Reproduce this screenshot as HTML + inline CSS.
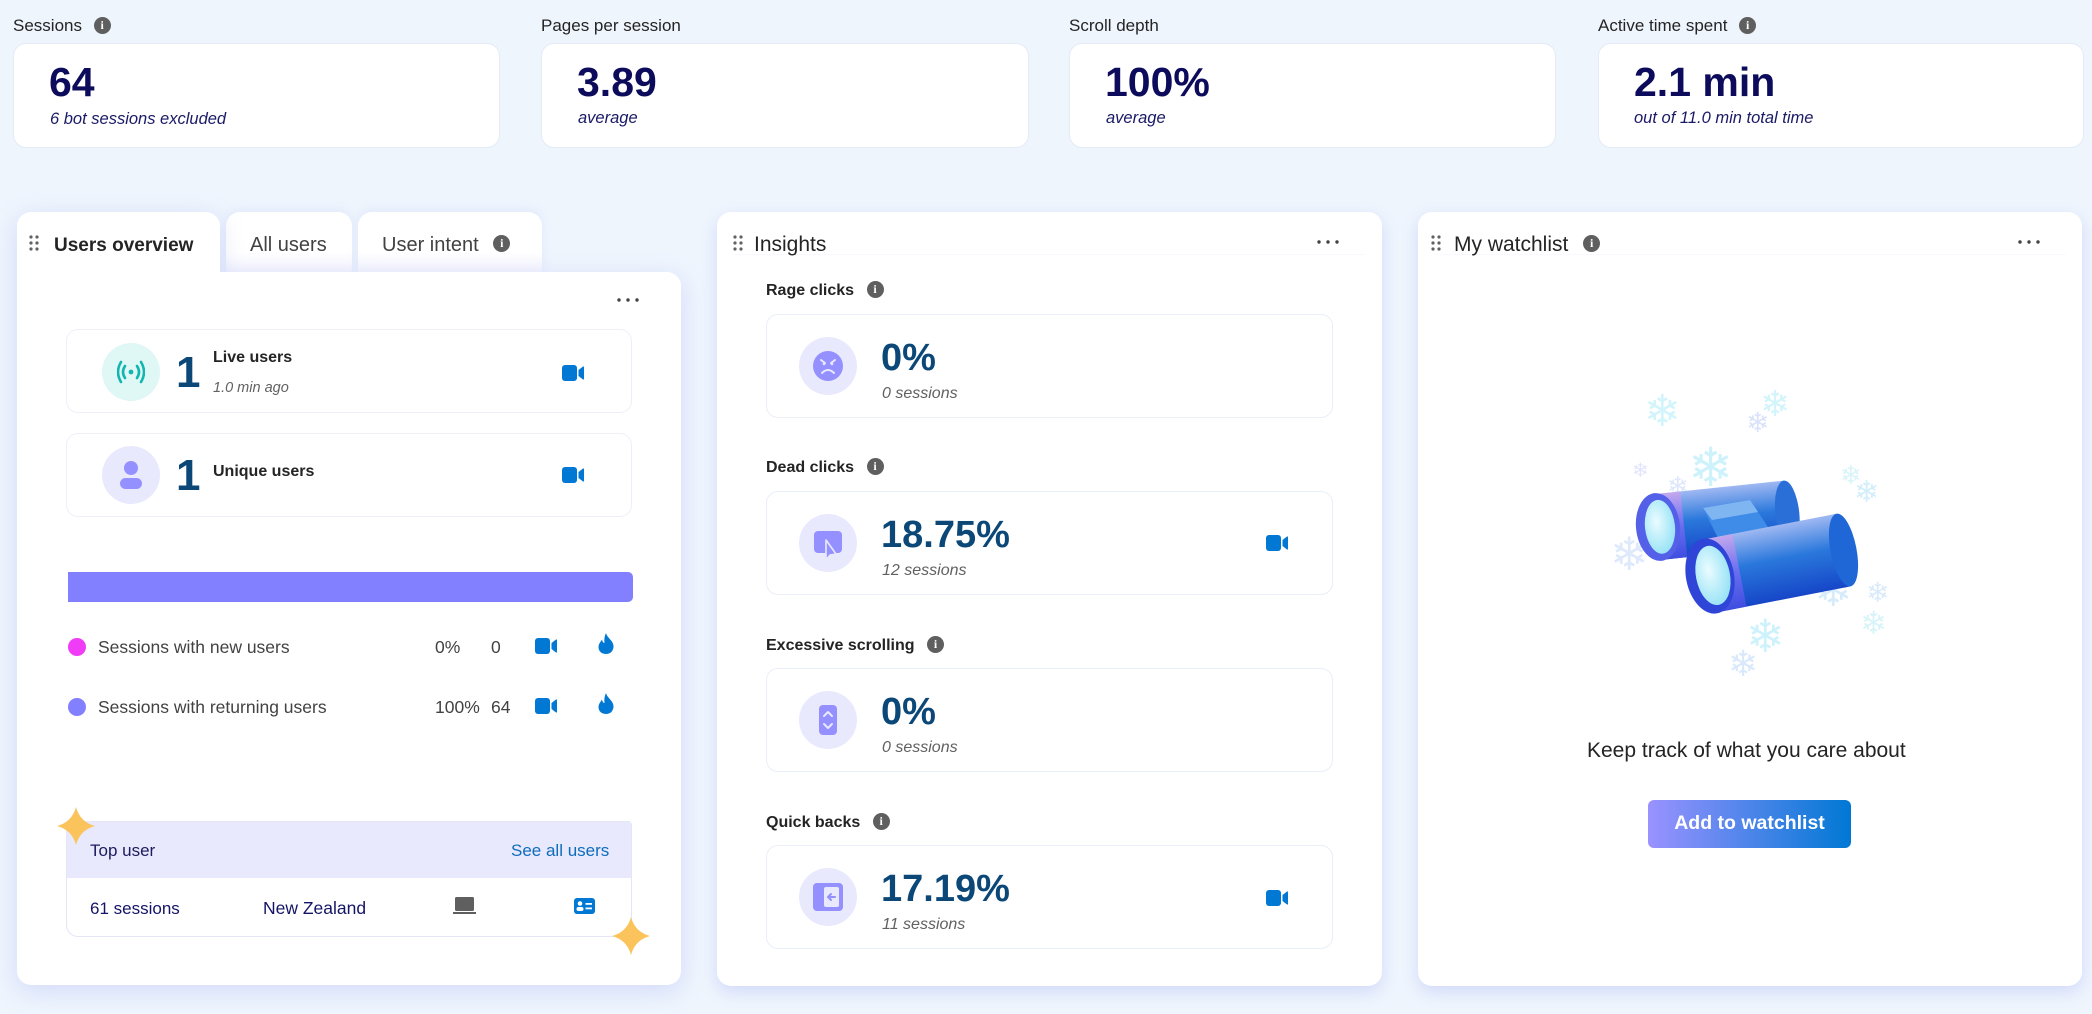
<!DOCTYPE html>
<html><head><meta charset="utf-8">
<style>
*{margin:0;padding:0;box-sizing:border-box}
html,body{width:2092px;height:1014px;overflow:hidden}
body{background:#eef5fd;font-family:"Liberation Sans",sans-serif;position:relative;color:#242424}
.a{position:absolute;white-space:nowrap;line-height:1}
.lbl{font-size:17px;color:#242424}
.card{position:absolute;top:43px;height:105px;background:#fff;border:1px solid #e5eaf7;border-radius:13px}
.big{font-size:41px;color:#0d0c5c;font-weight:bold}
.sub{font-size:16.5px;font-style:italic;color:#1a1a66}
.info{display:inline-block;width:17px;height:17px;border-radius:50%;background:#5f5f5f;color:#fff;font-size:12px;font-weight:bold;text-align:center;line-height:17px;font-family:"Liberation Serif",serif;vertical-align:middle}
.panel{position:absolute;background:#fff}
.ibox{position:absolute;left:766px;width:567px;height:104px;border:1px solid #eaeef8;border-radius:12px;background:#fff}
.circ{position:absolute;width:58px;height:58px;border-radius:50%;background:#e9e9fd}
.inum{font-size:38px;color:#0b4878;font-weight:bold}
.isub{font-size:16px;font-style:italic;color:#616161}
.ilbl{font-size:16px;font-weight:bold;color:#242424}
.row{font-size:17.5px;color:#424242}
</style></head><body>

<!-- top stats -->
<div class="a lbl" style="left:13px;top:17px">Sessions <span class="info" style="margin-left:7px;margin-top:-3px">i</span></div>
<div class="a lbl" style="left:541px;top:17px">Pages per session</div>
<div class="a lbl" style="left:1069px;top:17px">Scroll depth</div>
<div class="a lbl" style="left:1598px;top:17px">Active time spent <span class="info" style="margin-left:7px;margin-top:-3px">i</span></div>

<div class="card" style="left:13px;width:487px"></div>
<div class="card" style="left:541px;width:488px"></div>
<div class="card" style="left:1069px;width:487px"></div>
<div class="card" style="left:1598px;width:486px"></div>

<div class="a big" style="left:49px;top:62px">64</div>
<div class="a sub" style="left:50px;top:111px">6 bot sessions excluded</div>
<div class="a big" style="left:577px;top:62px">3.89</div>
<div class="a sub" style="left:578px;top:110px">average</div>
<div class="a big" style="left:1105px;top:62px">100%</div>
<div class="a sub" style="left:1106px;top:110px">average</div>
<div class="a big" style="left:1634px;top:62px">2.1 min</div>
<div class="a sub" style="left:1634px;top:110px">out of 11.0 min total time</div>

<!-- ========== Users overview panel ========== -->
<div class="panel" style="left:226px;top:212px;width:126px;height:62px;border-radius:14px 14px 0 0;background:linear-gradient(#fff 65%,#f2f3fd);box-shadow:0 -2px 10px rgba(120,130,235,0.10)"></div>
<div class="panel" style="left:358px;top:212px;width:184px;height:62px;border-radius:14px 14px 0 0;background:linear-gradient(#fff 65%,#f2f3fd);box-shadow:0 -2px 10px rgba(120,130,235,0.10)"></div>
<div style="position:absolute;left:0;top:0;width:700px;height:1014px;filter:drop-shadow(0 6px 12px rgba(115,125,235,0.22))">
  <div class="panel" style="left:17px;top:212px;width:203px;height:70px;border-radius:14px 14px 0 0"></div>
  <div class="panel" style="left:17px;top:272px;width:664px;height:713px;border-radius:0 14px 14px 14px"></div>
</div>
<svg class="a" style="left:28px;top:235px" width="14" height="16"><g fill="#616161"><circle cx="3" cy="2" r="1.6"/><circle cx="9" cy="2" r="1.6"/><circle cx="3" cy="8" r="1.6"/><circle cx="9" cy="8" r="1.6"/><circle cx="3" cy="14" r="1.6"/><circle cx="9" cy="14" r="1.6"/></g></svg>
<div class="a" style="left:54px;top:236px;font-size:19px;font-weight:bold;color:#242424">Users overview</div>
<div class="a" style="left:250px;top:235px;font-size:20px;color:#424242">All users</div>
<div class="a" style="left:382px;top:235px;font-size:20px;color:#424242">User intent <span class="info" style="margin-left:9px;margin-top:-4px">i</span></div>

<svg class="a" style="left:616px;top:296px" width="26" height="8"><g fill="#424242"><circle cx="3" cy="4" r="1.7"/><circle cx="12" cy="4" r="1.7"/><circle cx="21" cy="4" r="1.7"/></g></svg>

<!-- live users -->
<div class="a" style="left:66px;top:329px;width:566px;height:84px;border:1px solid #edf0f8;border-radius:12px"></div>
<div class="circ" style="left:102px;top:343px;background:#dff7f5"></div>
<svg class="a" style="left:117px;top:360px" width="28" height="24" viewBox="0 0 28 24"><g fill="none" stroke="#12b5b0" stroke-width="2.6" stroke-linecap="round"><path d="M8 6 Q4 12 8 18"/><path d="M20 6 Q24 12 20 18"/><path d="M4 2 Q-2 12 4 22"/><path d="M24 2 Q30 12 24 22"/></g><circle cx="14" cy="12" r="2.4" fill="#12b5b0"/></svg>
<div class="a" style="left:176px;top:351px;font-size:44px;color:#0b4878;font-weight:bold">1</div>
<div class="a" style="left:213px;top:350px;font-size:16px;font-weight:bold;color:#242424">Live users</div>
<div class="a" style="left:213px;top:381px;font-size:14.5px;font-style:italic;color:#616161">1.0 min ago</div>
<svg class="a" style="left:562px;top:365px" width="22" height="16"><rect x="0" y="0" width="15" height="16" rx="3" fill="#0078d4"/><path d="M16.5 5 L21 1.5 Q22 1 22 2.5 L22 13.5 Q22 15 21 14.5 L16.5 11 Z" fill="#0078d4"/></svg>

<!-- unique users -->
<div class="a" style="left:66px;top:433px;width:566px;height:84px;border:1px solid #edf0f8;border-radius:12px"></div>
<div class="circ" style="left:102px;top:446px"></div>
<svg class="a" style="left:119px;top:460px" width="24" height="30"><circle cx="12" cy="8" r="7" fill="#9590ff"/><rect x="1" y="18" width="22" height="11" rx="5.5" fill="#9590ff"/></svg>
<div class="a" style="left:176px;top:454px;font-size:44px;color:#0b4878;font-weight:bold">1</div>
<div class="a" style="left:213px;top:464px;font-size:16px;font-weight:bold;color:#242424">Unique users</div>
<svg class="a" style="left:562px;top:467px" width="22" height="16"><rect x="0" y="0" width="15" height="16" rx="3" fill="#0078d4"/><path d="M16.5 5 L21 1.5 Q22 1 22 2.5 L22 13.5 Q22 15 21 14.5 L16.5 11 Z" fill="#0078d4"/></svg>

<!-- bar -->
<div class="a" style="left:68px;top:572px;width:565px;height:30px;background:#8280ff;border-radius:0 5px 5px 0"></div>

<!-- rows -->
<div class="a" style="left:68px;top:638px;width:18px;height:18px;border-radius:50%;background:#f03cf6"></div>
<div class="a row" style="left:98px;top:639px">Sessions with new users</div>
<div class="a row" style="left:435px;top:639px">0%</div>
<div class="a row" style="left:491px;top:639px">0</div>
<svg class="a" style="left:535px;top:638px" width="22" height="16"><rect x="0" y="0" width="15" height="16" rx="3" fill="#0078d4"/><path d="M16.5 5 L21 1.5 Q22 1 22 2.5 L22 13.5 Q22 15 21 14.5 L16.5 11 Z" fill="#0078d4"/></svg>
<svg class="a" style="left:598px;top:633px" width="16" height="21" viewBox="0 0 16 21"><path d="M8 0 C9 5 16 8 15.5 14 C15 18.5 12 21 8 21 C4 21 0.5 18.5 0.5 14 C0.5 10.5 3 8.5 4 6.5 C4.5 9 5.5 10 6.5 10 C6 7 6.5 3 8 0 Z" fill="#0078d4"/></svg>

<div class="a" style="left:68px;top:698px;width:18px;height:18px;border-radius:50%;background:#8280ff"></div>
<div class="a row" style="left:98px;top:699px">Sessions with returning users</div>
<div class="a row" style="left:435px;top:699px">100%</div>
<div class="a row" style="left:491px;top:699px">64</div>
<svg class="a" style="left:535px;top:698px" width="22" height="16"><rect x="0" y="0" width="15" height="16" rx="3" fill="#0078d4"/><path d="M16.5 5 L21 1.5 Q22 1 22 2.5 L22 13.5 Q22 15 21 14.5 L16.5 11 Z" fill="#0078d4"/></svg>
<svg class="a" style="left:598px;top:693px" width="16" height="21" viewBox="0 0 16 21"><path d="M8 0 C9 5 16 8 15.5 14 C15 18.5 12 21 8 21 C4 21 0.5 18.5 0.5 14 C0.5 10.5 3 8.5 4 6.5 C4.5 9 5.5 10 6.5 10 C6 7 6.5 3 8 0 Z" fill="#0078d4"/></svg>

<!-- top user -->
<div class="a" style="left:66px;top:821px;width:566px;height:116px;border:1px solid #e4e6f6;border-radius:4px 4px 12px 12px;background:#fff;overflow:hidden">
  <div style="position:absolute;left:0;top:0;width:100%;height:56px;background:#e8e9fc"></div>
</div>
<div class="a" style="left:90px;top:842px;font-size:17px;color:#1b1b5e">Top user</div>
<div class="a" style="left:511px;top:842px;font-size:17px;color:#0f6cbd">See all users</div>
<div class="a" style="left:90px;top:900px;font-size:17px;color:#141466">61 sessions</div>
<div class="a" style="left:263px;top:900px;font-size:17.5px;color:#141466">New Zealand</div>
<svg class="a" style="left:453px;top:897px" width="23" height="18"><rect x="2" y="0" width="19" height="14" rx="1.5" fill="#5f5f5f"/><rect x="0" y="15" width="23" height="2" fill="#5f5f5f"/></svg>
<svg class="a" style="left:574px;top:898px" width="21" height="16"><rect x="0" y="0" width="21" height="16" rx="3" fill="#0078d4"/><circle cx="6" cy="5.5" r="2.3" fill="#fff"/><rect x="2.5" y="9" width="7" height="4" rx="2" fill="#fff"/><rect x="11.5" y="5" width="6.5" height="1.8" fill="#fff"/><rect x="11.5" y="9.5" width="6.5" height="1.8" fill="#fff"/></svg>

<svg class="a" style="left:57px;top:807px" width="38" height="38" viewBox="-19 -19 38 38"><path d="M0 -19 Q4 -4 19 0 Q4 4 0 19 Q-4 4 -19 0 Q-4 -4 0 -19 Z" fill="#fbc35c"/></svg>
<svg class="a" style="left:612px;top:917px" width="38" height="38" viewBox="-19 -19 38 38"><path d="M0 -19 Q4 -4 19 0 Q4 4 0 19 Q-4 4 -19 0 Q-4 -4 0 -19 Z" fill="#fbc35c"/></svg>

<!-- ========== Insights panel ========== -->
<div class="panel" style="left:717px;top:212px;width:665px;height:774px;border-radius:14px;box-shadow:0 6px 16px rgba(115,125,235,0.22)"></div>
<div class="a" style="left:735px;top:254px;width:630px;height:1px;background:#f8f9fe"></div>
<svg class="a" style="left:732px;top:235px" width="14" height="16"><g fill="#616161"><circle cx="3" cy="2" r="1.6"/><circle cx="9" cy="2" r="1.6"/><circle cx="3" cy="8" r="1.6"/><circle cx="9" cy="8" r="1.6"/><circle cx="3" cy="14" r="1.6"/><circle cx="9" cy="14" r="1.6"/></g></svg>
<div class="a" style="left:754px;top:234px;font-size:21px;color:#242424">Insights</div>
<svg class="a" style="left:1316px;top:238px" width="26" height="8"><g fill="#424242"><circle cx="3" cy="4" r="1.7"/><circle cx="12" cy="4" r="1.7"/><circle cx="21" cy="4" r="1.7"/></g></svg>

<!-- rage -->
<div class="a ilbl" style="left:766px;top:283px">Rage clicks <span class="info" style="margin-left:8px;margin-top:-3px;font-weight:bold">i</span></div>
<div class="ibox" style="top:314px"></div>
<div class="circ" style="left:799px;top:337px"></div>
<svg class="a" style="left:813px;top:351px" width="30" height="30" viewBox="0 0 30 30"><circle cx="15" cy="15" r="15" fill="#9590ff"/><g stroke="#e9e9fd" stroke-width="2" stroke-linecap="round" fill="none"><path d="M8 9 L12 12 M22 9 L18 12"/><path d="M9 22 Q15 16 21 22"/></g><circle cx="11" cy="13" r="1.3" fill="#e9e9fd"/><circle cx="19" cy="13" r="1.3" fill="#e9e9fd"/></svg>
<div class="a inum" style="left:881px;top:339px">0%</div>
<div class="a isub" style="left:882px;top:386px">0 sessions</div>

<!-- dead -->
<div class="a ilbl" style="left:766px;top:460px">Dead clicks <span class="info" style="margin-left:8px;margin-top:-3px;font-weight:bold">i</span></div>
<div class="ibox" style="top:491px"></div>
<div class="circ" style="left:799px;top:514px"></div>
<svg class="a" style="left:813px;top:530px" width="30" height="30" viewBox="0 0 30 30"><rect x="1" y="1" width="28" height="22" rx="4" fill="#9590ff"/><path d="M13 10 L13 30 L17 25 L23 24 Z" fill="#9590ff" stroke="#e9e9fd" stroke-width="1.6" stroke-linejoin="round"/></svg>
<div class="a inum" style="left:881px;top:516px">18.75%</div>
<div class="a isub" style="left:882px;top:563px">12 sessions</div>
<svg class="a" style="left:1266px;top:535px" width="22" height="16"><rect x="0" y="0" width="15" height="16" rx="3" fill="#0078d4"/><path d="M16.5 5 L21 1.5 Q22 1 22 2.5 L22 13.5 Q22 15 21 14.5 L16.5 11 Z" fill="#0078d4"/></svg>

<!-- excessive -->
<div class="a ilbl" style="left:766px;top:638px">Excessive scrolling <span class="info" style="margin-left:8px;margin-top:-3px;font-weight:bold">i</span></div>
<div class="ibox" style="top:668px"></div>
<div class="circ" style="left:799px;top:691px"></div>
<svg class="a" style="left:819px;top:705px" width="18" height="30" viewBox="0 0 18 30"><rect x="0" y="0" width="18" height="30" rx="4" fill="#9590ff"/><g stroke="#e9e9fd" stroke-width="2" fill="none" stroke-linecap="round" stroke-linejoin="round"><path d="M5 11 L9 7 L13 11"/><path d="M5 19 L9 23 L13 19"/></g></svg>
<div class="a inum" style="left:881px;top:693px">0%</div>
<div class="a isub" style="left:882px;top:740px">0 sessions</div>

<!-- quick backs -->
<div class="a ilbl" style="left:766px;top:815px">Quick backs <span class="info" style="margin-left:8px;margin-top:-3px;font-weight:bold">i</span></div>
<div class="ibox" style="top:845px"></div>
<div class="circ" style="left:799px;top:868px"></div>
<svg class="a" style="left:813px;top:883px" width="30" height="28" viewBox="0 0 30 28"><rect x="0" y="0" width="30" height="28" rx="4" fill="#9590ff"/><rect x="11" y="4" width="15" height="20" rx="2" fill="#e9e9fd"/><g stroke="#9590ff" stroke-width="2" fill="none" stroke-linecap="round" stroke-linejoin="round"><path d="M22 14 L15 14 M18 11 L15 14 L18 17"/></g></svg>
<div class="a inum" style="left:881px;top:870px">17.19%</div>
<div class="a isub" style="left:882px;top:917px">11 sessions</div>
<svg class="a" style="left:1266px;top:890px" width="22" height="16"><rect x="0" y="0" width="15" height="16" rx="3" fill="#0078d4"/><path d="M16.5 5 L21 1.5 Q22 1 22 2.5 L22 13.5 Q22 15 21 14.5 L16.5 11 Z" fill="#0078d4"/></svg>

<!-- ========== Watchlist panel ========== -->
<div class="panel" style="left:1418px;top:212px;width:664px;height:774px;border-radius:14px;box-shadow:0 6px 16px rgba(115,125,235,0.22)"></div>
<div class="a" style="left:1436px;top:254px;width:630px;height:1px;background:#f8f9fe"></div>
<svg class="a" style="left:1430px;top:235px" width="14" height="16"><g fill="#616161"><circle cx="3" cy="2" r="1.6"/><circle cx="9" cy="2" r="1.6"/><circle cx="3" cy="8" r="1.6"/><circle cx="9" cy="8" r="1.6"/><circle cx="3" cy="14" r="1.6"/><circle cx="9" cy="14" r="1.6"/></g></svg>
<div class="a" style="left:1454px;top:234px;font-size:21px;color:#242424">My watchlist <span class="info" style="margin-left:9px;margin-top:-4px">i</span></div>
<svg class="a" style="left:2017px;top:238px" width="26" height="8"><g fill="#424242"><circle cx="3" cy="4" r="1.7"/><circle cx="12" cy="4" r="1.7"/><circle cx="21" cy="4" r="1.7"/></g></svg>

<svg class="a" style="left:1600px;top:380px" width="300" height="300" viewBox="0 0 300 300">
  <defs>
    <linearGradient id="bar" x1="0" y1="0" x2="0" y2="1"><stop offset="0" stop-color="#9fb8f2"/><stop offset="0.45" stop-color="#2a78dc"/><stop offset="1" stop-color="#1646c8"/></linearGradient>
    <linearGradient id="band" x1="0" y1="0" x2="0" y2="1"><stop offset="0" stop-color="#c3a8ee"/><stop offset="0.5" stop-color="#6b6ff0"/><stop offset="1" stop-color="#3f4ee0"/></linearGradient>
    <radialGradient id="lens" cx="0.4" cy="0.4" r="0.7"><stop offset="0" stop-color="#eafcff"/><stop offset="1" stop-color="#8fe0f5"/></radialGradient>
  </defs>
  <g font-family="DejaVu Sans" opacity="0.8">
    <text x="44" y="46" font-size="44" fill="#c8f2fb">❄</text>
    <text x="160" y="36" font-size="36" fill="#c8f2fb">❄</text>
    <text x="146" y="52" font-size="28" fill="#d2dcfb">❄</text>
    <text x="88" y="106" font-size="54" fill="#c2effb">❄</text>
    <text x="32" y="97" font-size="20" fill="#dcdefb">❄</text>
    <text x="67" y="115" font-size="26" fill="#d6e2fb">❄</text>
    <text x="240" y="104" font-size="26" fill="#cff2f8">❄</text>
    <text x="254" y="122" font-size="30" fill="#c8eafb">❄</text>
    <text x="10" y="190" font-size="46" fill="#d6e4fb">❄</text>
    <text x="214" y="226" font-size="46" fill="#cce8fb">❄</text>
    <text x="266" y="222" font-size="28" fill="#d0e6fb">❄</text>
    <text x="260" y="254" font-size="32" fill="#cff2f8">❄</text>
    <text x="146" y="272" font-size="46" fill="#c2effb">❄</text>
    <text x="128" y="296" font-size="36" fill="#d0e4fb">❄</text>
  </g>
  <!-- back barrel -->
  <g transform="translate(58,147) rotate(-6)">
    <rect x="0" y="-33" width="130" height="66" fill="url(#bar)"/>
    <ellipse cx="130" cy="0" rx="12" ry="33" fill="#2a6fd8"/>
    <rect x="0" y="-33" width="26" height="66" fill="url(#band)"/>
    <ellipse cx="0" cy="0" rx="22" ry="34" fill="#5560e8"/>
    <ellipse cx="2" cy="0" rx="15" ry="27" fill="url(#lens)"/>
  </g>
  <!-- bridge -->
  <polygon points="103,128 150,120 170,150 120,162" fill="#3f8ce8"/>
  <polygon points="103,128 150,120 158,132 112,140" fill="#7fb6f2"/>
  <!-- front barrel -->
  <g transform="translate(110,196) rotate(-11)">
    <rect x="0" y="-37" width="136" height="74" fill="url(#bar)"/>
    <ellipse cx="136" cy="0" rx="13" ry="37" fill="#1f66d6"/>
    <rect x="0" y="-37" width="30" height="74" fill="url(#band)"/>
    <ellipse cx="0" cy="0" rx="24" ry="38" fill="#2f45d8"/>
    <ellipse cx="3" cy="0" rx="17" ry="30" fill="url(#lens)"/>
  </g>
</svg>

<div class="a" style="left:1587px;top:740px;font-size:21px;color:#242424">Keep track of what you care about</div>
<div class="a" style="left:1648px;top:800px;width:203px;height:48px;border-radius:6px;background:linear-gradient(90deg,#9a92ff,#0078d4);color:#fff;font-size:19.5px;font-weight:bold;display:flex;align-items:center;justify-content:center">Add to watchlist</div>

</body></html>
